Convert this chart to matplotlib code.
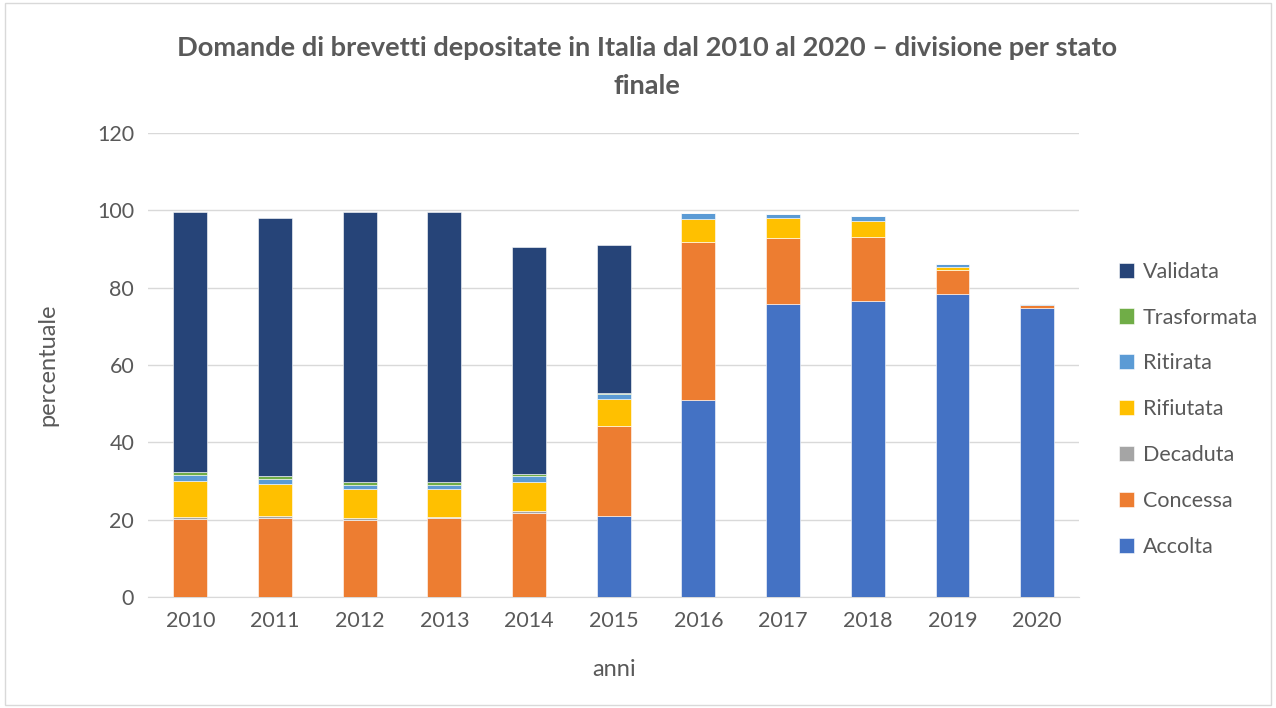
import matplotlib.pyplot as plt
import matplotlib.patches as patches
import numpy as np

plt.rcParams['font.family'] = ['Lato', 'DejaVu Sans']

anni = ['2010', '2011', '2012', '2013', '2014', '2015', '2016', '2017', '2018', '2019', '2020']

accolta     = [0, 0, 0, 0, 0, 21.0, 50.9, 75.9, 76.6, 78.4, 74.8]
concessa    = [20.2, 20.5, 19.8, 20.4, 21.8, 23.2, 41.0, 17.0, 16.5, 6.1, 0.7]
decaduta    = [0.4, 0.4, 0.5, 0.2, 0.3, 0.0, 0.0, 0.0, 0.0, 0.0, 0.0]
rifiutata   = [9.5, 8.2, 7.5, 7.2, 7.7, 6.9, 6.0, 5.1, 4.2, 0.9, 0.0]
ritirata    = [1.4, 1.4, 1.2, 1.2, 1.4, 1.5, 1.3, 1.1, 1.3, 0.8, 0.4]
trasformata = [0.7, 0.8, 0.7, 0.6, 0.7, 0.1, 0.0, 0.0, 0.0, 0.0, 0.0]
validata    = [67.3, 66.8, 69.8, 70.1, 58.5, 38.3, 0.0, 0.0, 0.0, 0.0, 0.0]

serie = [
    ('Accolta', accolta, '#4472C4'),
    ('Concessa', concessa, '#ED7D31'),
    ('Decaduta', decaduta, '#A5A5A5'),
    ('Rifiutata', rifiutata, '#FFC000'),
    ('Ritirata', ritirata, '#5B9BD5'),
    ('Trasformata', trasformata, '#70AD47'),
    ('Validata', validata, '#264478'),
]

text_col = '#595959'

fig = plt.figure(figsize=(12.76, 7.08), dpi=100)
ax = fig.add_axes([0.116, 0.157, 0.730, 0.655])

x = np.arange(len(anni))
bottom = np.zeros(len(anni))
for nome, vals, col in serie:
    vals = np.array(vals)
    ax.bar(x, vals, 0.4, bottom=bottom, color=col, label=nome,
           edgecolor='white', linewidth=0.4, zorder=3)
    bottom += vals

ax.set_xlim(-0.5, len(anni) - 0.5)
ax.set_ylim(0, 120)
ax.set_yticks(range(0, 121, 20))
ax.set_xticks(x)
ax.set_xticklabels(anni)
ax.grid(axis='y', color='#D9D9D9', linewidth=1, zorder=0)
for s in ['top', 'right', 'left']:
    ax.spines[s].set_visible(False)
ax.spines['bottom'].set_color('#D9D9D9')
ax.tick_params(length=0, labelsize=15.5, colors=text_col, pad=10)

ax.set_xlabel('anni', fontsize=17, color=text_col, labelpad=20)
ax.set_ylabel('percentuale', fontsize=17, color=text_col, labelpad=28)

fig.text(0.507, 0.932, 'Domande di brevetti depositate in Italia dal 2010 al 2020 \u2013 divisione per stato',
         ha='center', va='center', fontsize=19.6, fontweight='bold', color=text_col)
fig.text(0.507, 0.879, 'finale', ha='center', va='center', fontsize=19.6,
         fontweight='bold', color=text_col)

h, l = ax.get_legend_handles_labels()
leg = fig.legend(h[::-1], l[::-1], loc='center left', bbox_to_anchor=(0.862, 0.422),
                 frameon=False, fontsize=15.5, labelspacing=1.2, handlelength=0.7,
                 handleheight=0.7, handletextpad=0.4)
for t in leg.get_texts():
    t.set_color(text_col)

fig.patches.append(patches.Rectangle((0.004, 0.004), 0.992, 0.992, transform=fig.transFigure,
                                     fill=False, edgecolor='#D9D9D9', linewidth=1))

fig.savefig('out.png', dpi=100)
